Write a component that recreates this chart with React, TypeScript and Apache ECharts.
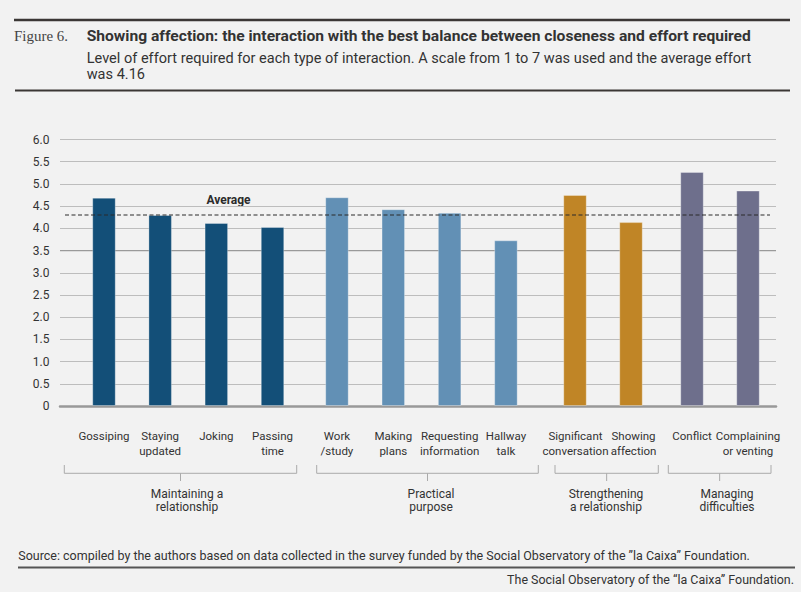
import React, { useEffect, useRef } from "react";
import * as echarts from "echarts";

// ---- data ----
const groupNames = ["Maintaining a\nrelationship", "Practical\npurpose", "Strengthening\na relationship", "Managing\ndifficulties"];
const categories1 = ["Gossiping", "Staying\nupdated", "Joking", "Passing\ntime"];
const values1 = [4.69, 4.3, 4.12, 4.03];
const categories2 = ["Work\n/study", "Making\nplans", "Requesting\ninformation", "Hallway\ntalk"];
const values2 = [4.7, 4.43, 4.35, 3.73];
const categories3 = ["Significant\nconversation", "Showing\naffection"];
const values3 = [4.75, 4.14];
const categories4 = ["Conflict", "Complaining\nor venting"];
const values4 = [5.27, 4.85];
const averageValue = 4.3;
const emphasizedGridValue = 3.5;
const yMin = 0;
const yMax = 6;
const yInterval = 0.5;
const groupColors = ["#134f78", "#6290b5", "#c08526", "#6e6f8c"];

const titleText = "Showing affection: the interaction with the best balance between closeness and effort required";
const subtitleLine1 = "Level of effort required for each type of interaction. A scale from 1 to 7 was used and the average effort";
const subtitleLine2 = "was 4.16";
const figureText = "Figure 6.";
const sourceText = "Source: compiled by the authors based on data collected in the survey funded by the Social Observatory of the \u201dla Caixa\u201d Foundation.";
const footerText = "The Social Observatory of the \u201cla Caixa\u201d Foundation.";
const averageText = "Average";

// ---- layout ----
const SANS = 'Roboto, "Liberation Sans", Arial, sans-serif';
const SERIF = '"Liberation Serif", "DejaVu Serif", serif';
const TEXT = "#333333";
const PLOT_TOP = 139.5;
const PLOT_H = 266.5;

const groupGrids = [
  { left: 75.9, width: 224.7 },
  { left: 308.8, width: 225.3 },
  { left: 547, width: 112 },
  { left: 664, width: 112 },
];
const brackets = [
  { x1: 64.3, x2: 296.7, labelX: 187 },
  { x1: 316.7, x2: 538.3, labelX: 431 },
  { x1: 555, x2: 658.3, labelX: 606 },
  { x1: 668.3, x2: 771, labelX: 727 },
];
// small horizontal nudges (label padding) so neighbouring labels do not touch
const labelPadding: Record<string, number[]> = {
  "Showing\naffection": [0, 0, 0, 5],
  "Significant\nconversation": [0, 0, 0, 1],
};

const categoriesList = [categories1, categories2, categories3, categories4];
const valuesList = [values1, values2, values3, values4];

let measureCtx: CanvasRenderingContext2D | null = null;
function fitScale(text: string, font: string, target: number): number {
  if (!measureCtx) measureCtx = document.createElement("canvas").getContext("2d");
  if (!measureCtx) return 1;
  measureCtx.font = font;
  const w = measureCtx.measureText(text).width;
  return w > 0 ? target / w : 1;
}

function buildOption(): any {
  const grid: any[] = [
    { left: 60, width: 716, top: PLOT_TOP, height: PLOT_H },
    ...groupGrids.map((g) => ({ left: g.left, width: g.width, top: PLOT_TOP, height: PLOT_H })),
    { left: 65, width: 705, top: PLOT_TOP, height: PLOT_H },
  ];
  const xAxis: any[] = [
    {
      gridIndex: 0,
      type: "value",
      min: 0,
      max: 1,
      axisLine: { show: true, onZero: true, lineStyle: { color: "#999999", width: 2.5 } },
      axisTick: { show: false },
      axisLabel: { show: false },
      splitLine: { show: false },
    },
    ...categoriesList.map((cats, i) => ({
      gridIndex: i + 1,
      type: "category",
      data: cats.map((c) => (labelPadding[c] ? { value: c, textStyle: { padding: labelPadding[c] } } : c)),
      axisLine: { show: false },
      axisTick: { show: false },
      axisLabel: {
        interval: 0,
        fontFamily: SANS,
        fontSize: 11.5,
        lineHeight: 14.5,
        color: TEXT,
        margin: 23,
        align: "center",
      },
    })),
    { gridIndex: 5, type: "value", min: 0, max: 1, show: false },
  ];
  const yAxis: any[] = [
    {
      gridIndex: 0,
      type: "value",
      min: yMin,
      max: yMax,
      interval: yInterval,
      axisLine: { show: false },
      axisTick: { show: false },
      axisLabel: {
        fontFamily: SANS,
        fontSize: 12,
        color: TEXT,
        margin: 10.5,
        formatter: (v: number) => (v === 0 ? "0" : v.toFixed(1)),
      },
      splitLine: { show: true, lineStyle: { color: "#bdbdbd", width: 1.2 } },
    },
    ...categoriesList.map((_, i) => ({ gridIndex: i + 1, type: "value", min: yMin, max: yMax, show: false })),
    { gridIndex: 5, type: "value", min: yMin, max: yMax, show: false },
  ];
  const series: any[] = [
    {
      type: "line",
      xAxisIndex: 0,
      yAxisIndex: 0,
      data: [
        [0, emphasizedGridValue],
        [1, emphasizedGridValue],
      ],
      symbol: "none",
      silent: true,
      z: 1,
      lineStyle: { color: "#9a9a9a", width: 1.2 },
    },
    ...valuesList.map((vals, i) => ({
      type: "bar",
      xAxisIndex: i + 1,
      yAxisIndex: i + 1,
      data: vals,
      barWidth: 23.5,
      itemStyle: { color: groupColors[i], borderColor: "rgba(255,255,255,0.3)", borderWidth: 1 },
      z: 2,
    })),
    {
      type: "line",
      xAxisIndex: 5,
      yAxisIndex: 5,
      data: [
        [0, averageValue],
        [1, averageValue],
      ],
      symbol: "none",
      silent: true,
      z: 5,
      lineStyle: { color: "#2b2b2b", width: 1.2, type: [4, 2.5] },
    },
  ];

  const titleFont = `bold 15px ${SANS}`;
  const subFont = `14px ${SANS}`;
  const footFont = `13px ${SANS}`;
  const figFont = `15px ${SERIF}`;

  const graphic: any[] = [
    {
      id: "fig",
      type: "text",
      x: 14,
      y: 36,
      scaleX: fitScale(figureText, figFont, 54),
      style: { text: figureText, font: figFont, fill: "#444", textVerticalAlign: "middle" },
    },
    {
      id: "title",
      type: "text",
      x: 86.7,
      y: 36,
      scaleX: fitScale(titleText, titleFont, 665),
      style: { text: titleText, font: titleFont, fill: TEXT, textVerticalAlign: "middle" },
    },
    {
      id: "sub1",
      type: "text",
      x: 86.7,
      y: 58.3,
      scaleX: fitScale(subtitleLine1, subFont, 665),
      style: { text: subtitleLine1, font: subFont, fill: TEXT, textVerticalAlign: "middle" },
    },
    {
      id: "sub2",
      type: "text",
      x: 86.7,
      y: 74.3,
      scaleX: fitScale(subtitleLine1, subFont, 665),
      style: { text: subtitleLine2, font: subFont, fill: TEXT, textVerticalAlign: "middle" },
    },
    {
      id: "avgLabel",
      type: "text",
      x: 228.5,
      y: 200,
      style: { text: averageText, font: `bold 12px ${SANS}`, fill: "#2b2b2b", textAlign: "center", textVerticalAlign: "middle" },
    },
    {
      id: "source",
      type: "text",
      x: 18.3,
      y: 555,
      scaleX: fitScale(sourceText, footFont, 732),
      style: { text: sourceText, font: footFont, fill: TEXT, textVerticalAlign: "middle" },
    },
    {
      id: "footer",
      type: "text",
      x: 794,
      y: 579.3,
      scaleX: fitScale(footerText, footFont, 287),
      style: { text: footerText, font: footFont, fill: TEXT, textAlign: "right", textVerticalAlign: "middle" },
    },
  ];

  brackets.forEach((b, i) => {
    const mid = (b.x1 + b.x2) / 2;
    graphic.push({
      id: "br" + i,
      type: "polyline",
      shape: {
        points: [
          [b.x1, 465],
          [b.x1, 473.3],
          [b.x2, 473.3],
          [b.x2, 465],
        ],
      },
      style: { stroke: "#aaaaaa", lineWidth: 1, fill: null },
    });
    graphic.push({
      id: "brt" + i,
      type: "line",
      shape: { x1: mid, y1: 473.3, x2: mid, y2: 481 },
      style: { stroke: "#aaaaaa", lineWidth: 1 },
    });
    graphic.push({
      id: "grp" + i,
      type: "text",
      x: b.labelX,
      y: 500.5,
      style: {
        text: groupNames[i],
        font: `12px ${SANS}`,
        lineHeight: 13.5,
        fill: TEXT,
        textAlign: "center",
        textVerticalAlign: "middle",
      },
    });
  });

  graphic.push(
    { id: "ruleTop", type: "line", z: 10, shape: { x1: 14, y1: 20, x2: 790, y2: 20 }, style: { stroke: "#3b3735", lineWidth: 2.5 } },
    { id: "ruleHead", type: "rect", z: 10, shape: { x: 15, y: 89.5, width: 775, height: 2 }, style: { fill: "#3b3735" } },
    { id: "ruleFoot", type: "rect", z: 10, shape: { x: 18, y: 566.5, width: 777, height: 2 }, style: { fill: "#555" } }
  );

  return {
    animation: false,
    backgroundColor: "#f2f2f2",
    grid,
    xAxis,
    yAxis,
    series,
    graphic,
  };
}

export default function App() {
  const ref = useRef<HTMLDivElement>(null);
  useEffect(() => {
    const chart = echarts.init(ref.current!, null, { renderer: "svg" });
    chart.setOption(buildOption());
    return () => chart.dispose();
  }, []);
  return (
    <div
      ref={ref}
      style={{ position: "fixed", left: 0, top: 0, width: 801, height: 592, background: "#f2f2f2" }}
    />
  );
}
